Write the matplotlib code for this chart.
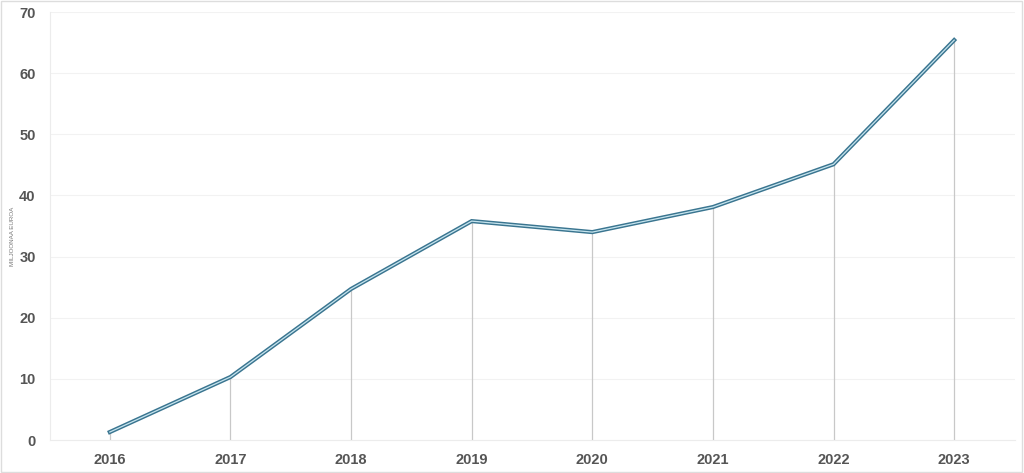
import matplotlib.pyplot as plt

plt.rcParams['font.family'] = ['Liberation Sans', 'DejaVu Sans']

years = ['2016', '2017', '2018', '2019', '2020', '2021', '2022', '2023']
values = [1.3, 10.3, 24.7, 35.8, 34.0, 38.1, 45.1, 65.4]

fig = plt.figure(figsize=(10.24, 4.73), dpi=100)
ax = fig.add_axes([49.5 / 1024, 33 / 473, 965 / 1024, 428 / 473])

x = list(range(len(years)))

# drop lines from the points down to the axis
ax.vlines(x, 0, values, color='#c8c8c8', linewidth=0.9, zorder=2)

# double line: dark outline with a light centre
ax.plot(x, values, color='#3a7590', linewidth=3.0, solid_joinstyle='miter', zorder=3)
ax.plot(x, values, color='#c6e4ee', linewidth=0.9, solid_joinstyle='miter', zorder=4)

ax.set_xlim(-0.5, len(years) - 0.5)
ax.set_ylim(0, 70)
ax.set_yticks(range(0, 71, 10))
ax.set_xticks(x)
ax.set_xticklabels(years)
ax.grid(axis='y', color='#f2f2f2', linewidth=0.8)
ax.set_axisbelow(True)

for side in ['top', 'right']:
    ax.spines[side].set_visible(False)
ax.spines['left'].set_color('#ececec')
ax.spines['bottom'].set_color('#ececec')
ax.tick_params(length=0, labelsize=10.5, labelcolor='#555555', pad=9)
for lab in ax.get_xticklabels() + ax.get_yticklabels():
    lab.set_fontweight('bold')
ax.tick_params(axis='y', pad=10)

fig.text(13 / 1024, 0.5, 'MILJOONAA EUROA', rotation=90, fontsize=4.5,
         color='#777777', ha='center', va='center')

# light border around the figure
fig.patches.append(plt.Rectangle((0.001, 0.002), 0.997, 0.996, transform=fig.transFigure,
                                 fill=False, edgecolor='#dddddd', linewidth=1))

fig.savefig('out.png', dpi=100)
